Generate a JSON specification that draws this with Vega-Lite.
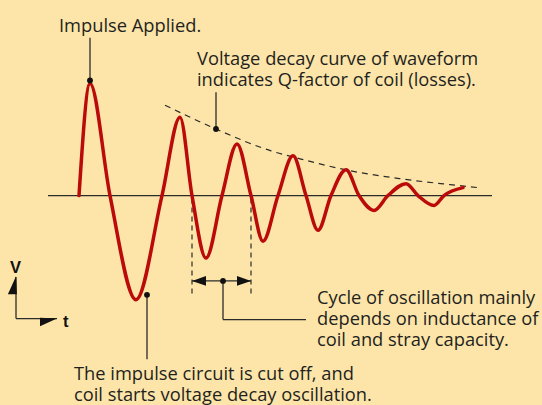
{
  "$schema": "https://vega.github.io/schema/vega-lite/v6.json",
  "width": 542,
  "height": 405,
  "autosize": {"type": "fit", "contains": "padding"},
  "padding": 0,
  "background": "#FDE5A9",
  "config": {"view": {"stroke": null}},
  "datasets": {
    "wave": [
      {"t": 79, "v": 0}, {"t": 90, "v": 113}, {"t": 110, "v": 0}, {"t": 136, "v": -105},
      {"t": 162, "v": 0}, {"t": 180, "v": 79}, {"t": 192, "v": 0}, {"t": 206, "v": -63},
      {"t": 222, "v": 0}, {"t": 237, "v": 52}, {"t": 251, "v": 0}, {"t": 263, "v": -46},
      {"t": 278, "v": 0}, {"t": 293, "v": 40}, {"t": 306, "v": 0}, {"t": 318, "v": -35},
      {"t": 331, "v": 0}, {"t": 346, "v": 26}, {"t": 359, "v": 0}, {"t": 374, "v": -15},
      {"t": 388, "v": 0}, {"t": 406, "v": 12}, {"t": 418, "v": 0}, {"t": 434, "v": -10},
      {"t": 444, "v": 0}, {"t": 463, "v": 8}
    ],
    "decay": [
      {"t": 165, "v": 91}, {"t": 216, "v": 67}, {"t": 271, "v": 45}, {"t": 300, "v": 37},
      {"t": 350, "v": 25}, {"t": 400, "v": 17}, {"t": 450, "v": 11}, {"t": 478, "v": 8}
    ],
    "rules": [
      {"t": 48, "v": 0, "t2": 492, "v2": 0},
      {"t": 90, "v": 159, "t2": 90, "v2": 116},
      {"t": 216, "v": 104, "t2": 216, "v2": 67},
      {"t": 147, "v": -100, "t2": 147, "v2": -165},
      {"t": 192, "v": -86, "t2": 251, "v2": -86},
      {"t": 223, "v": -86, "t2": 223, "v2": -125},
      {"t": 223, "v": -125, "t2": 306, "v2": -125},
      {"t": 16, "v": -124, "t2": 16, "v2": -82},
      {"t": 16, "v": -124, "t2": 57, "v2": -124}
    ],
    "dashrules": [
      {"t": 192, "v": -3, "t2": 192, "v2": -101},
      {"t": 251, "v": -3, "t2": 251, "v2": -101}
    ],
    "dots": [
      {"t": 90, "v": 116}, {"t": 216, "v": 67}, {"t": 147, "v": -100}, {"t": 223, "v": -86}
    ],
    "spanheads": [
      {"t": 199, "v": -86, "dir": "left"},
      {"t": 244, "v": -86, "dir": "right"}
    ],
    "vhead": [{"t": 16, "v": -90.5}],
    "thead": [{"t": 48.5, "v": -124}],
    "texts": [
      {"t": 59, "v": 165, "label": "Impulse Applied."},
      {"t": 197, "v": 132, "label": "Voltage decay curve of waveform\nindicates Q-factor of coil (losses)."},
      {"t": 317, "v": -109, "label": "Cycle of oscillation mainly\ndepends on inductance of\ncoil and stray capacity."},
      {"t": 74, "v": -186, "label": "The impulse circuit is cut off, and\ncoil starts voltage decay oscillation."}
    ],
    "boldtexts": [
      {"t": 10, "v": -78, "label": "V"},
      {"t": 63, "v": -132, "label": "t"}
    ]
  },
  "encoding": {
    "x": {"field": "t", "type": "quantitative", "scale": {"domain": [0, 542], "nice": false, "zero": false}, "axis": null},
    "y": {"field": "v", "type": "quantitative", "scale": {"domain": [-208, 197], "nice": false, "zero": false}, "axis": null}
  },
  "layer": [
    {
      "data": {"name": "rules"},
      "mark": {"type": "rule", "color": "#2b2b2b", "strokeWidth": 1.3},
      "encoding": {"x2": {"field": "t2"}, "y2": {"field": "v2"}}
    },
    {
      "data": {"name": "dashrules"},
      "mark": {"type": "rule", "color": "#2b2b2b", "strokeWidth": 1.2, "strokeDash": [5, 4]},
      "encoding": {"x2": {"field": "t2"}, "y2": {"field": "v2"}}
    },
    {
      "data": {"name": "decay"},
      "mark": {"type": "line", "color": "#2b2b2b", "strokeWidth": 1.2, "strokeDash": [6, 5], "interpolate": "monotone"},
      "encoding": {}
    },
    {
      "data": {"name": "wave"},
      "mark": {"type": "line", "color": "#BB0A0A", "strokeWidth": 3.5, "interpolate": "monotone", "strokeCap": "round", "strokeJoin": "round"},
      "encoding": {}
    },
    {
      "data": {"name": "dots"},
      "mark": {"type": "point", "filled": true, "color": "#111111", "opacity": 1, "size": 34},
      "encoding": {}
    },
    {
      "data": {"name": "spanheads"},
      "mark": {"type": "point", "filled": true, "color": "#111111", "opacity": 1, "size": 196},
      "encoding": {"shape": {"field": "dir", "type": "nominal", "legend": null, "scale": {"domain": ["left", "right"], "range": ["M-1,0L1,-0.7L1,0.7Z", "M1,0L-1,-0.7L-1,0.7Z"]}}}
    },
    {
      "data": {"name": "vhead"},
      "mark": {"type": "point", "filled": true, "color": "#111111", "opacity": 1, "size": 324, "shape": "M0,-1L0.1,1L-0.9,1Z"},
      "encoding": {}
    },
    {
      "data": {"name": "thead"},
      "mark": {"type": "point", "filled": true, "color": "#111111", "opacity": 1, "size": 289, "shape": "M1,0L-1,-0.1L-1,0.9Z"},
      "encoding": {}
    },
    {
      "data": {"name": "texts"},
      "mark": {"type": "text", "align": "left", "baseline": "alphabetic", "font": "Open Sans", "fontSize": 18.3, "lineHeight": 21, "lineBreak": "\n", "color": "#231F20"},
      "encoding": {"text": {"field": "label"}}
    },
    {
      "data": {"name": "boldtexts"},
      "mark": {"type": "text", "align": "left", "baseline": "alphabetic", "font": "Liberation Sans", "fontWeight": "bold", "fontSize": 16.5, "color": "#111111"},
      "encoding": {"text": {"field": "label"}}
    }
  ]
}
